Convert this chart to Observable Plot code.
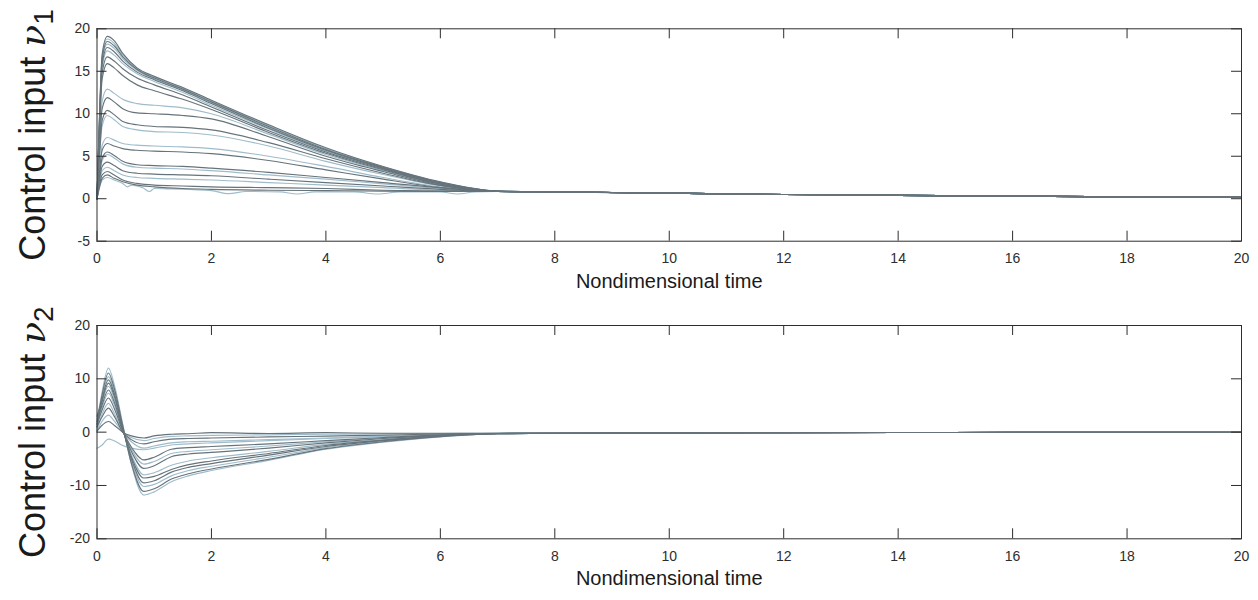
<!DOCTYPE html>
<html><head><meta charset="utf-8">
<script src="https://cdn.jsdelivr.net/npm/d3@7"></script>
<script src="https://cdn.jsdelivr.net/npm/@observablehq/plot@0.6"></script>
<style>
body{margin:0;background:#fff;}
#chart{width:1258px;height:600px;}
#chart svg{display:block;}
</style></head><body><div id="chart"></div>
<script>
// ---------- shared axis data ----------
const xTicks = [0, 2, 4, 6, 8, 10, 12, 14, 16, 18, 20];
const xLabel = "Nondimensional time";
const tailTimes = [8, 10, 12, 14, 16, 18, 20];

// ---------- panel 1: control input nu1 ----------
const nu1Ticks = [-5, 0, 5, 10, 15, 20];
const nu1Times = [0, 0.04, 0.09, 0.18, 0.3, 0.45, 0.7, 1, 1.5, 2, 3, 4, 5, 6, 7];
const nu1Tail = [0.8, 0.65, 0.5, 0.4, 0.3, 0.22, 0.15];
const nu1Values = [
  [0, 9.0, 17.0, 19.1, 18.6, 17.1, 15.4, 14.4, 13.1, 11.6, 8.7, 6.0, 3.8, 2.0, 0.9],
  [0, 8.8, 16.7, 18.8, 18.3, 16.9, 15.3, 14.3, 13.0, 11.5, 8.6, 5.9, 3.75, 1.95, 0.9],
  [0, 8.6, 16.4, 18.5, 18.0, 16.7, 15.2, 14.2, 12.9, 11.4, 8.5, 5.8, 3.7, 1.9, 0.9],
  [0, 8.4, 16.1, 18.2, 17.7, 16.5, 15.1, 14.1, 12.8, 11.3, 8.4, 5.75, 3.65, 1.9, 0.88],
  [0, 8.2, 15.8, 17.8, 17.3, 16.2, 14.9, 14.0, 12.7, 11.2, 8.3, 5.7, 3.6, 1.85, 0.88],
  [0, 8.0, 15.4, 17.4, 16.9, 15.9, 14.7, 13.8, 12.5, 11.0, 8.2, 5.6, 3.55, 1.8, 0.87],
  [0, 7.7, 14.8, 16.7, 16.2, 15.3, 14.2, 13.4, 12.2, 10.8, 8.0, 5.5, 3.5, 1.75, 0.87],
  [0, 7.3, 14.1, 15.9, 15.4, 14.5, 13.4, 12.7, 11.7, 10.5, 7.8, 5.35, 3.4, 1.7, 0.86],
  [0, 5.8, 11.5, 12.9, 12.4, 11.7, 11.2, 11.0, 10.7, 10.0, 7.6, 5.2, 3.3, 1.65, 0.86],
  [0, 5.3, 10.6, 11.9, 11.4, 10.6, 10.1, 10.0, 9.8, 9.4, 7.3, 5.0, 3.2, 1.6, 0.86],
  [0, 4.7, 9.2, 10.4, 9.9, 9.1, 8.7, 8.5, 8.4, 8.1, 6.6, 4.7, 3.0, 1.55, 0.86],
  [0, 4.4, 8.6, 9.8, 9.3, 8.5, 8.1, 7.9, 7.8, 7.5, 6.2, 4.4, 2.85, 1.5, 0.86],
  [0, 3.2, 6.3, 7.2, 6.9, 6.5, 6.3, 6.2, 6.1, 5.9, 5.0, 3.8, 2.5, 1.4, 0.85],
  [0, 2.9, 5.7, 6.5, 6.2, 5.9, 5.7, 5.6, 5.5, 5.3, 4.5, 3.4, 2.3, 1.3, 0.85],
  [0, 2.5, 4.8, 5.5, 5.1, 4.4, 4.0, 3.9, 3.8, 3.6, 3.1, 2.5, 1.9, 1.3, 0.85],
  [0, 2.3, 4.5, 5.2, 4.8, 4.1, 3.7, 3.6, 3.5, 3.3, 2.8, 2.3, 1.75, 1.2, 0.85],
  [0, 2.0, 3.8, 4.3, 3.9, 3.3, 3.0, 2.9, 2.8, 2.7, 2.3, 1.9, 1.5, 1.1, 0.85],
  [0, 1.7, 3.3, 3.7, 3.3, 2.8, 2.5, 2.4, 2.3, 2.2, 1.9, 1.6, 1.3, 1.0, 0.85],
  [0, 1.5, 2.8, 3.2, 2.8, 2.2, 1.8, 1.6, 1.5, 1.4, 1.3, 1.2, 1.0, 0.9, 0.85],
  [0, 1.3, 2.4, 2.8, 2.4, 2.0, 1.6, 1.4, 1.2, 1.1, 1.0, 0.95, 0.9, 0.87, 0.85]
];
const nu1Tones = ["dark","light","dark","light","dark","light","dark","dark",
                  "light","dark","dark","light","light","dark","dark","light","dark","light","dark","dark"];
// wiggly lowest curve (own sample times)
const nu1WiggleTimes = [0, 0.04, 0.09, 0.18, 0.3, 0.45, 0.53, 0.6, 0.8, 0.92, 1.0, 1.3, 2.0, 2.3, 2.6, 3.2, 3.5, 3.8, 4.5, 4.9, 5.3, 6.0, 6.3, 6.6, 7.0];
const nu1WiggleValues = [0, 1.2, 2.2, 2.5, 2.2, 1.8, 1.4, 1.6, 1.3, 0.85, 1.2, 1.15, 0.95, 0.6, 0.85, 0.8, 0.55, 0.8, 0.8, 0.55, 0.8, 0.8, 0.55, 0.8, 0.85];

// ---------- panel 2: control input nu2 ----------
const nu2Ticks = [-20, -10, 0, 10, 20];
const nu2Times = [0, 0.08, 0.2, 0.3, 0.45, 0.6, 0.82, 1.0, 1.3, 1.6, 2, 3, 4, 5, 6, 7];
const nu2Tail = [-0.2, -0.15, -0.1, -0.07, -0.05, -0.03, -0.02];
const nu2Values = [
  [2.0, 7.0, 12.0, 9.0, 1.5, -6.0, -11.8, -11.2, -9.3, -8.2, -7.2, -5.3, -3.2, -1.9, -0.9, -0.3],
  [1.5, 6.5, 11.1, 8.3, 1.2, -5.8, -11.1, -10.6, -8.8, -7.8, -6.9, -5.1, -3.1, -1.8, -0.85, -0.3],
  [2.5, 6.2, 10.4, 7.8, 1.0, -5.4, -10.2, -9.8, -8.2, -7.2, -6.4, -4.7, -2.9, -1.7, -0.8, -0.3],
  [1.0, 5.6, 9.8, 7.3, 0.8, -5.0, -9.5, -9.1, -7.5, -6.6, -5.9, -4.3, -2.7, -1.6, -0.75, -0.3],
  [3.0, 5.6, 9.2, 6.8, 0.6, -4.6, -8.6, -8.3, -7.0, -6.1, -5.4, -4.0, -2.5, -1.5, -0.7, -0.3],
  [0.8, 5.0, 8.6, 6.3, 0.5, -4.2, -8.0, -7.6, -6.2, -5.4, -4.8, -3.6, -2.3, -1.4, -0.65, -0.3],
  [2.0, 4.8, 7.9, 5.7, 0.4, -3.6, -6.8, -6.3, -4.6, -4.1, -3.8, -3.0, -2.0, -1.2, -0.6, -0.25],
  [0.5, 4.2, 7.3, 5.2, 0.3, -3.2, -6.0, -5.5, -4.0, -3.6, -3.3, -2.6, -1.8, -1.1, -0.55, -0.25],
  [1.5, 3.9, 6.4, 4.5, 0.2, -2.8, -5.2, -4.7, -3.2, -2.9, -2.7, -2.2, -1.6, -1.0, -0.5, -0.25],
  [0.3, 3.1, 5.4, 3.6, 0.0, -1.8, -3.0, -2.6, -2.0, -1.8, -1.7, -1.4, -1.1, -0.75, -0.45, -0.25],
  [1.0, 2.7, 4.5, 3.0, 0.0, -1.4, -2.2, -1.8, -1.3, -1.2, -1.1, -0.9, -0.75, -0.55, -0.35, -0.2],
  [0.2, 1.9, 3.2, 2.1, 0.0, -1.0, -1.6, -1.2, -0.8, -0.7, -0.6, -0.5, -0.4, -0.3, -0.25, -0.2],
  [0.2, 1.2, 2.0, 1.3, 0.0, -0.7, -1.1, -0.7, -0.4, -0.3, -0.1, -0.25, -0.1, -0.2, -0.2, -0.2],
  [-3.0, -2.5, -1.3, -1.6, -2.5, -3.0, -3.3, -3.0, -2.4, -2.2, -2.0, -1.6, -1.2, -0.8, -0.45, -0.25]
];
const nu2Tones = ["light","dark","light","dark","dark","light","dark","light","dark","light","dark","light","dark","light"];

const COLORS = {dark: "#66737a", light: "#9fbccb"};
const AXIS = "#2e2e2e";
const FONT = "'Liberation Sans', Arial, Helvetica, sans-serif";

function buildRows(times, values, tones, tail) {
  const rows = [];
  values.forEach((vals, i) => {
    vals.forEach((v, j) => rows.push({id: i, tone: tones[i], t: times[j], v}));
    tail.forEach((v, j) => rows.push({id: i, tone: tones[i], t: tailTimes[j], v}));
  });
  return rows;
}

function panel({rows, yDomain, yTicks, height, mt, mb, sub}) {
  const ml = 96.5, mr = 17, width = 1258;
  const innerH = height - mt - mb, innerW = width - ml - mr;
  const svg = Plot.plot({
    width, height, marginLeft: ml, marginRight: mr, marginTop: mt, marginBottom: mb,
    x: {domain: [0, 20]},
    y: {domain: yDomain},
    style: {fontFamily: FONT, fontSize: "14px", color: AXIS, background: "#fff", overflow: "visible"},
    marks: [
      Plot.line(rows.filter(d => d.tone === "light"), {x: "t", y: "v", z: "id", stroke: COLORS.light, strokeWidth: 1.15, curve: "monotone-x"}),
      Plot.line(rows.filter(d => d.tone === "dark"), {x: "t", y: "v", z: "id", stroke: COLORS.dark, strokeWidth: 1.15, curve: "monotone-x"}),
      Plot.frame({stroke: AXIS, strokeWidth: 1}),
      Plot.tickX(xTicks, {x: d => d, insetTop: innerH - 10, stroke: AXIS}),
      Plot.tickX(xTicks, {x: d => d, insetBottom: innerH - 10, stroke: AXIS}),
      Plot.tickY(yTicks, {y: d => d, insetRight: innerW - 10, stroke: AXIS}),
      Plot.tickY(yTicks, {y: d => d, insetLeft: innerW - 10, stroke: AXIS}),
      Plot.axisX(xTicks, {tickSize: 0, tickPadding: 12, label: null, tickFormat: d => String(d)}),
      Plot.axisY(yTicks, {tickSize: 0, tickPadding: 7, label: null, tickFormat: d => String(d)}),
      Plot.text([xLabel], {frameAnchor: "bottom", lineAnchor: "middle", textAnchor: "middle", dy: 40, fontSize: 20, fill: "#1a1a1a"}),
      Plot.text(["Control input "], {frameAnchor: "left", lineAnchor: "middle", textAnchor: "middle", rotate: -90, dx: -64, fontSize: 36, fill: "#1a1a1a", className: "ylab"})
    ]
  });
  const t = svg.querySelector("g.ylab text");
  if (t) {
    t.setAttribute("style", "white-space:pre");
    const ns = "http://www.w3.org/2000/svg";
    const nu = document.createElementNS(ns, "tspan");
    nu.setAttribute("font-family", "'DejaVu Serif', 'Liberation Serif', serif");
    nu.setAttribute("font-style", "italic");
    nu.textContent = "\u03BD";
    const s = document.createElementNS(ns, "tspan");
    s.setAttribute("font-size", "28");
    s.setAttribute("dy", "8");
    s.textContent = sub;
    t.appendChild(nu); t.appendChild(s);
  }
  return svg;
}

const nu1Rows = buildRows(nu1Times, nu1Values, nu1Tones, nu1Tail);
nu1WiggleValues.forEach((v, j) => nu1Rows.push({id: 99, tone: "light", t: nu1WiggleTimes[j], v}));
nu1Tail.forEach((v, j) => nu1Rows.push({id: 99, tone: "light", t: tailTimes[j], v}));
const nu2Rows = buildRows(nu2Times, nu2Values, nu2Tones, nu2Tail);

const root = document.getElementById("chart");
root.appendChild(panel({rows: nu1Rows, yDomain: [-5, 20], yTicks: nu1Ticks, height: 300, mt: 28.3, mb: 59.3, sub: "1"}));
root.appendChild(panel({rows: nu2Rows, yDomain: [-20, 20], yTicks: nu2Ticks, height: 300, mt: 25, mb: 61.7, sub: "2"}));
</script></body></html>
